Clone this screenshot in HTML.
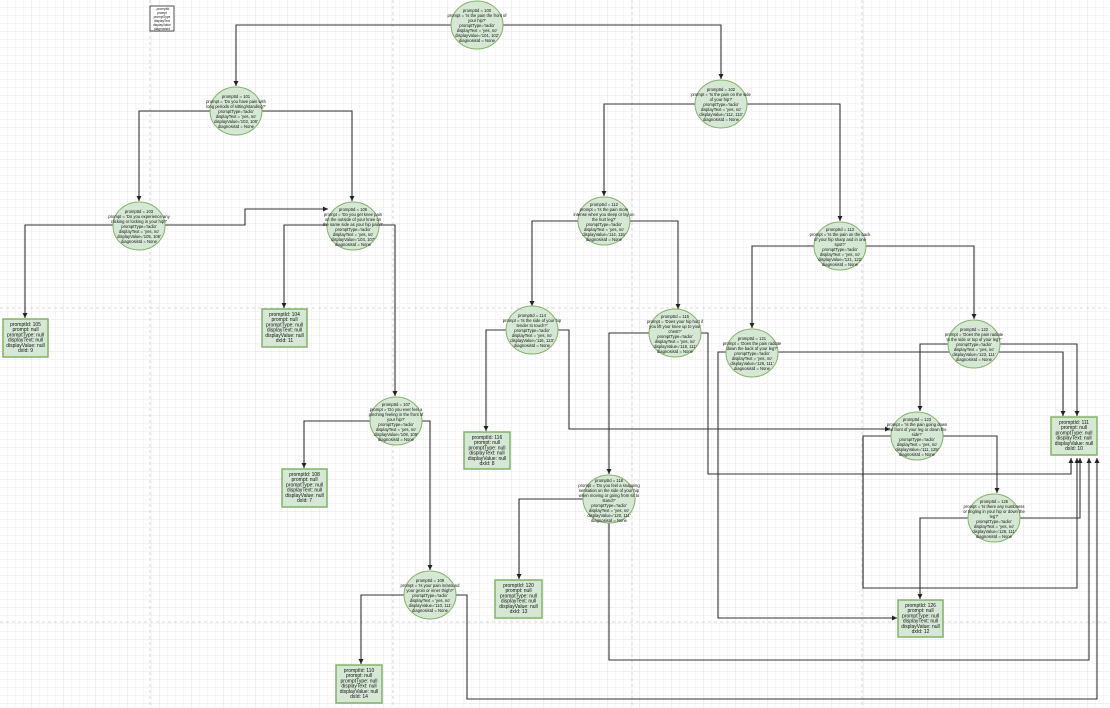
<!DOCTYPE html>
<html><head><meta charset="utf-8"><style>
html,body{margin:0;padding:0;background:#fff;}
svg{display:block;}
text{font-family:"Liberation Sans",sans-serif;fill:#111;}
</style></head><body>
<svg width="1110" height="708" viewBox="0 0 1110 708" xmlns="http://www.w3.org/2000/svg">
<defs>
<pattern id="g" width="8" height="8" patternUnits="userSpaceOnUse"><path d="M8 0V8H0" fill="none" stroke="#e8e8e8" stroke-width="0.8"/></pattern>
<pattern id="G" width="32" height="32" patternUnits="userSpaceOnUse"><path d="M32 0V32H0" fill="none" stroke="#dedede" stroke-width="0.8"/></pattern>
<marker id="a" markerWidth="6" markerHeight="6" refX="5" refY="3" orient="auto" markerUnits="userSpaceOnUse"><path d="M0,0.5 L5,3 L0,5.5z" fill="#222"/></marker>
</defs>
<rect width="1110" height="708" fill="#fff"/>
<rect width="1110" height="708" fill="url(#g)"/>
<rect width="1110" height="708" fill="url(#G)"/>
<g stroke="#ccc" stroke-width="0.8" stroke-dasharray="3,3">
<line x1="150" y1="0" x2="150" y2="708"/><line x1="393" y1="0" x2="393" y2="708"/>
<line x1="632" y1="0" x2="632" y2="708"/><line x1="862" y1="0" x2="862" y2="708"/>
<line x1="0" y1="308" x2="1110" y2="308"/><line x1="0" y1="622" x2="1110" y2="622"/>
</g>
<g fill="none" stroke="#333" stroke-width="1.1" marker-end="url(#a)">
<polyline points="451,25 236,25 236,86"/>
<polyline points="503,25 721,25 721,79"/>
<polyline points="210,111 139,111 139,201"/>
<polyline points="262,111 352,111 352,201"/>
<polyline points="113,225 25,225 25,318"/>
<polyline points="165,225 245,225 245,209 328,209"/>
<polyline points="327,225 284,225 284,308"/>
<polyline points="379,225 395,225 395,396"/>
<polyline points="370,421 304,421 304,468"/>
<polyline points="422,421 430,421 430,570"/>
<polyline points="404,595 361,595 361,664"/>
<polyline points="456,595 467,595 467,699 1097,699 1097,458"/>
<polyline points="695,104 604,104 604,196"/>
<polyline points="747,104 840,104 840,221"/>
<polyline points="578,221 532,221 532,306"/>
<polyline points="630,221 678,221 678,309"/>
<polyline points="814,246 752,246 752,328"/>
<polyline points="866,246 974,246 974,319"/>
<polyline points="506,330 486,330 486,431"/>
<polyline points="558,330 569,330 569,429 890,429"/>
<polyline points="649,333 609,333 609,474"/>
<polyline points="701,333 708,333 708,474 1071,474 1071,458"/>
<polyline points="727,352 718,352 718,618 897,618"/>
<polyline points="778,352 1063,352 1063,416"/>
<polyline points="949,344 920,344 920,411"/>
<polyline points="1000,344 1077,344 1077,416"/>
<polyline points="891,436 863,436 863,588 1077,588 1077,458"/>
<polyline points="943,436 997,436 997,493"/>
<polyline points="969,518 920,518 920,599"/>
<polyline points="1020,518 1080,518 1080,458"/>
<polyline points="584,499 519,499 519,579"/>
<polyline points="609,523 609,660 1089,660 1089,458"/>
</g>
<!-- legend -->
<rect x="150" y="6" width="24" height="25" fill="#fff" stroke="#222" stroke-width="0.8"/>
<g font-size="3.2" text-anchor="middle">
<text x="162" y="10">- promptId</text><text x="162" y="14">prompt</text><text x="162" y="18">promptType</text><text x="162" y="22">displayText</text><text x="162" y="26">displayValue</text><text x="162" y="30">diagnosisId</text>
</g>
<g fill="#d5e8d4" stroke="#82b366" stroke-width="1">
<ellipse cx="477" cy="25" rx="26" ry="24"/>
<ellipse cx="236" cy="111" rx="26" ry="24"/>
<ellipse cx="721" cy="104" rx="26" ry="24"/>
<ellipse cx="139" cy="226" rx="26" ry="24"/>
<ellipse cx="353" cy="226" rx="26" ry="24"/>
<ellipse cx="396" cy="421" rx="26" ry="24"/>
<ellipse cx="430" cy="595" rx="26" ry="24"/>
<ellipse cx="604" cy="221" rx="26" ry="24"/>
<ellipse cx="840" cy="246" rx="26" ry="24"/>
<ellipse cx="532" cy="330" rx="26" ry="24"/>
<ellipse cx="675" cy="333" rx="26" ry="24"/>
<ellipse cx="752" cy="353" rx="26" ry="24"/>
<ellipse cx="974" cy="344" rx="26" ry="24"/>
<ellipse cx="917" cy="436" rx="26" ry="24"/>
<ellipse cx="994" cy="518" rx="26" ry="24"/>
<ellipse cx="609" cy="499" rx="26" ry="24"/>
</g>
<g fill="#d5e8d4" stroke="#82b366" stroke-width="1.5">
<rect x="3" y="319" width="45" height="38"/>
<rect x="262" y="309" width="45" height="38"/>
<rect x="282" y="469" width="45" height="38"/>
<rect x="464" y="432" width="46" height="37"/>
<rect x="336" y="665" width="46" height="38"/>
<rect x="495" y="580" width="47" height="38"/>
<rect x="1051" y="417" width="46" height="38"/>
<rect x="898" y="600" width="45" height="37"/>
</g>
<g font-size="4.2" text-anchor="middle">
<text x="477" y="12"><tspan x="477">promptId = 100</tspan><tspan x="477" dy="5">prompt = 'Is the pain the front of</tspan><tspan x="477" dy="5">your hip?'</tspan><tspan x="477" dy="5">promptType='radio'</tspan><tspan x="477" dy="5">displayText = 'yes, no'</tspan><tspan x="477" dy="5">displayValue='101, 102'</tspan><tspan x="477" dy="5">diagnosisId = None</tspan></text>
<text x="236" y="98"><tspan x="236">promptId = 101</tspan><tspan x="236" dy="5">prompt = 'Do you have pain with</tspan><tspan x="236" dy="5">long periods of sitting/standing?'</tspan><tspan x="236" dy="5">promptType='radio'</tspan><tspan x="236" dy="5">displayText = 'yes, no'</tspan><tspan x="236" dy="5">displayValue='103, 106'</tspan><tspan x="236" dy="5">diagnosisId = None</tspan></text>
<text x="721" y="91"><tspan x="721">promptId = 102</tspan><tspan x="721" dy="5">prompt = 'Is the pain on the side</tspan><tspan x="721" dy="5">of your hip?'</tspan><tspan x="721" dy="5">promptType='radio'</tspan><tspan x="721" dy="5">displayText = 'yes, no'</tspan><tspan x="721" dy="5">displayValue='112, 113'</tspan><tspan x="721" dy="5">diagnosisId = None</tspan></text>
<text x="139" y="213"><tspan x="139">promptId = 103</tspan><tspan x="139" dy="5">prompt = 'Do you experience any</tspan><tspan x="139" dy="5">clicking or locking in your hip?'</tspan><tspan x="139" dy="5">promptType='radio'</tspan><tspan x="139" dy="5">displayText = 'yes, no'</tspan><tspan x="139" dy="5">displayValue='105, 106'</tspan><tspan x="139" dy="5">diagnosisId = None</tspan></text>
<text x="353" y="211"><tspan x="353">promptId = 106</tspan><tspan x="353" dy="5">prompt = 'Do you get knee pain</tspan><tspan x="353" dy="5">on the outside of your knee on</tspan><tspan x="353" dy="5">the same side as your hip pain?'</tspan><tspan x="353" dy="5">promptType='radio'</tspan><tspan x="353" dy="5">displayText = 'yes, no'</tspan><tspan x="353" dy="5">displayValue='104, 107'</tspan><tspan x="353" dy="5">diagnosisId = None</tspan></text>
<text x="396" y="406"><tspan x="396">promptId = 107</tspan><tspan x="396" dy="5">prompt = 'Do you ever feel a</tspan><tspan x="396" dy="5">pinching feeling in the front of</tspan><tspan x="396" dy="5">your hip?'</tspan><tspan x="396" dy="5">promptType='radio'</tspan><tspan x="396" dy="5">displayText = 'yes, no'</tspan><tspan x="396" dy="5">displayValue='108, 109'</tspan><tspan x="396" dy="5">diagnosisId = None</tspan></text>
<text x="430" y="582"><tspan x="430">promptId = 109</tspan><tspan x="430" dy="5">prompt = 'Is your pain in/around</tspan><tspan x="430" dy="5">your groin or inner thigh?'</tspan><tspan x="430" dy="5">promptType='radio'</tspan><tspan x="430" dy="5">displayText = 'yes, no'</tspan><tspan x="430" dy="5">displayValue='110, 111'</tspan><tspan x="430" dy="5">diagnosisId = None</tspan></text>
<text x="604" y="206"><tspan x="604">promptId = 112</tspan><tspan x="604" dy="5">prompt = 'Is the pain more</tspan><tspan x="604" dy="5">intense when you sleep or lay on</tspan><tspan x="604" dy="5">the hurt leg?'</tspan><tspan x="604" dy="5">promptType='radio'</tspan><tspan x="604" dy="5">displayText = 'yes, no'</tspan><tspan x="604" dy="5">displayValue='114, 115'</tspan><tspan x="604" dy="5">diagnosisId = None</tspan></text>
<text x="840" y="231"><tspan x="840">promptId = 113</tspan><tspan x="840" dy="5">prompt = 'Is the pain on the back</tspan><tspan x="840" dy="5">of your hip sharp and in one</tspan><tspan x="840" dy="5">spot?'</tspan><tspan x="840" dy="5">promptType='radio'</tspan><tspan x="840" dy="5">displayText = 'yes, no'</tspan><tspan x="840" dy="5">displayValue='121, 122'</tspan><tspan x="840" dy="5">diagnosisId = None</tspan></text>
<text x="532" y="317"><tspan x="532">promptId = 114</tspan><tspan x="532" dy="5">prompt = 'Is the side of your hip</tspan><tspan x="532" dy="5">tender to touch?'</tspan><tspan x="532" dy="5">promptType='radio'</tspan><tspan x="532" dy="5">displayText = 'yes, no'</tspan><tspan x="532" dy="5">displayValue='116, 123'</tspan><tspan x="532" dy="5">diagnosisId = None</tspan></text>
<text x="675" y="318"><tspan x="675">promptId = 115</tspan><tspan x="675" dy="5">prompt = 'Does your hip hurt if</tspan><tspan x="675" dy="5">you lift your knee up to your</tspan><tspan x="675" dy="5">chest?'</tspan><tspan x="675" dy="5">promptType='radio'</tspan><tspan x="675" dy="5">displayText = 'yes, no'</tspan><tspan x="675" dy="5">displayValue='118, 111'</tspan><tspan x="675" dy="5">diagnosisId = None</tspan></text>
<text x="752" y="340"><tspan x="752">promptId = 121</tspan><tspan x="752" dy="5">prompt = 'Does the pain radiate</tspan><tspan x="752" dy="5">down the back of your leg?'</tspan><tspan x="752" dy="5">promptType='radio'</tspan><tspan x="752" dy="5">displayText = 'yes, no'</tspan><tspan x="752" dy="5">displayValue='126, 111'</tspan><tspan x="752" dy="5">diagnosisId = None</tspan></text>
<text x="974" y="331"><tspan x="974">promptId = 122</tspan><tspan x="974" dy="5">prompt = 'Does the pain radiate</tspan><tspan x="974" dy="5">to the side or top of your leg?'</tspan><tspan x="974" dy="5">promptType='radio'</tspan><tspan x="974" dy="5">displayText = 'yes, no'</tspan><tspan x="974" dy="5">displayValue='123, 111'</tspan><tspan x="974" dy="5">diagnosisId = None</tspan></text>
<text x="917" y="421"><tspan x="917">promptId = 123</tspan><tspan x="917" dy="5">prompt = 'Is the pain going down</tspan><tspan x="917" dy="5">the front of your leg or down the</tspan><tspan x="917" dy="5">side?'</tspan><tspan x="917" dy="5">promptType='radio'</tspan><tspan x="917" dy="5">displayText = 'yes, no'</tspan><tspan x="917" dy="5">displayValue='111, 125'</tspan><tspan x="917" dy="5">diagnosisId = None</tspan></text>
<text x="994" y="503"><tspan x="994">promptId = 125</tspan><tspan x="994" dy="5">prompt = 'Is there any numbness</tspan><tspan x="994" dy="5">or tingling in your hip or down the</tspan><tspan x="994" dy="5">leg?'</tspan><tspan x="994" dy="5">promptType='radio'</tspan><tspan x="994" dy="5">displayText = 'yes, no'</tspan><tspan x="994" dy="5">displayValue='126, 111'</tspan><tspan x="994" dy="5">diagnosisId = None</tspan></text>
<text x="609" y="482"><tspan x="609">promptId = 118</tspan><tspan x="609" dy="5">prompt = 'Do you feel a snapping</tspan><tspan x="609" dy="5">sensation on the side of your hip</tspan><tspan x="609" dy="5">when moving or going from sit to</tspan><tspan x="609" dy="5">stand?'</tspan><tspan x="609" dy="5">promptType='radio'</tspan><tspan x="609" dy="5">displayText = 'yes, no'</tspan><tspan x="609" dy="5">displayValue='120, 111'</tspan><tspan x="609" dy="5">diagnosisId = None</tspan></text>
</g>
<g font-size="5" text-anchor="middle">
<text x="25.5" y="326"><tspan x="25.5">promptId: 105</tspan><tspan x="25.5" dy="5.2">prompt: null</tspan><tspan x="25.5" dy="5.2">promptType:  null</tspan><tspan x="25.5" dy="5.2">displayText: null</tspan><tspan x="25.5" dy="5.2">displayValue: null</tspan><tspan x="25.5" dy="5.2">dxId: 9</tspan></text>
<text x="284.5" y="316"><tspan x="284.5">promptId: 104</tspan><tspan x="284.5" dy="5.2">prompt: null</tspan><tspan x="284.5" dy="5.2">promptType:  null</tspan><tspan x="284.5" dy="5.2">displayText: null</tspan><tspan x="284.5" dy="5.2">displayValue: null</tspan><tspan x="284.5" dy="5.2">dxId: 11</tspan></text>
<text x="304.5" y="476"><tspan x="304.5">promptId: 108</tspan><tspan x="304.5" dy="5.2">prompt: null</tspan><tspan x="304.5" dy="5.2">promptType:  null</tspan><tspan x="304.5" dy="5.2">displayText: null</tspan><tspan x="304.5" dy="5.2">displayValue: null</tspan><tspan x="304.5" dy="5.2">dxId: 7</tspan></text>
<text x="487" y="439"><tspan x="487">promptId: 116</tspan><tspan x="487" dy="5.2">prompt: null</tspan><tspan x="487" dy="5.2">promptType:  null</tspan><tspan x="487" dy="5.2">displayText: null</tspan><tspan x="487" dy="5.2">displayValue: null</tspan><tspan x="487" dy="5.2">dxId: 8</tspan></text>
<text x="359" y="672"><tspan x="359">promptId: 110</tspan><tspan x="359" dy="5.2">prompt: null</tspan><tspan x="359" dy="5.2">promptType:  null</tspan><tspan x="359" dy="5.2">displayText: null</tspan><tspan x="359" dy="5.2">displayValue: null</tspan><tspan x="359" dy="5.2">dxId: 14</tspan></text>
<text x="518.5" y="587"><tspan x="518.5">promptId: 120</tspan><tspan x="518.5" dy="5.2">prompt: null</tspan><tspan x="518.5" dy="5.2">promptType:  null</tspan><tspan x="518.5" dy="5.2">displayText: null</tspan><tspan x="518.5" dy="5.2">displayValue: null</tspan><tspan x="518.5" dy="5.2">dxId: 13</tspan></text>
<text x="1074" y="424"><tspan x="1074">promptId: 111</tspan><tspan x="1074" dy="5.2">prompt: null</tspan><tspan x="1074" dy="5.2">promptType:  null</tspan><tspan x="1074" dy="5.2">displayText: null</tspan><tspan x="1074" dy="5.2">displayValue: null</tspan><tspan x="1074" dy="5.2">dxId: 10</tspan></text>
<text x="920.5" y="607"><tspan x="920.5">promptId: 126</tspan><tspan x="920.5" dy="5.2">prompt: null</tspan><tspan x="920.5" dy="5.2">promptType:  null</tspan><tspan x="920.5" dy="5.2">displayText: null</tspan><tspan x="920.5" dy="5.2">displayValue: null</tspan><tspan x="920.5" dy="5.2">dxId: 12</tspan></text>
</g>
</svg>
</body></html>
